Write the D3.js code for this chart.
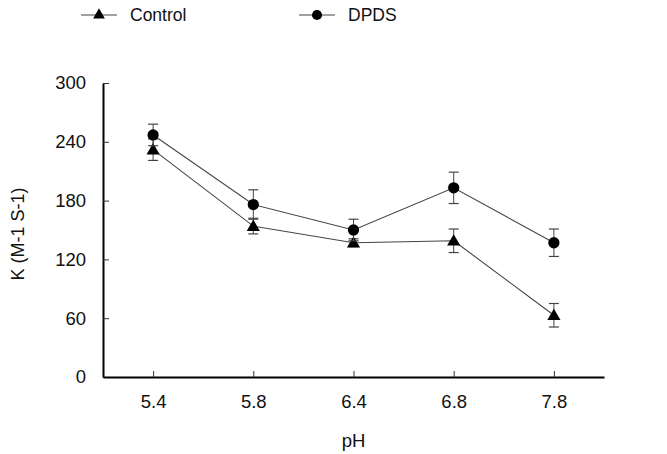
<!DOCTYPE html>
<html>
<head>
<meta charset="utf-8">
<script src="https://cdn.jsdelivr.net/npm/d3@7"></script>
<style>
  body { margin: 0; background: #fff; }
  svg { display: block; font-family: "Liberation Sans", Arial, sans-serif; }
</style>
</head>
<body>
<svg id="chart" width="667" height="454"></svg>
<script>
const categories = ["5.4", "5.8", "6.4", "6.8", "7.8"];
const controlValues = [232, 154, 137, 139, 63];
const controlErrors = [11, 8, 4, 12, 12];
const dpdsValues = [247, 176, 150, 193, 137];
const dpdsErrors = [11, 15, 11, 16, 14];
const yTicks = [0, 60, 120, 180, 240, 300];
const seriesNames = ["Control", "DPDS"];

(function () {
const svg = d3.select("#chart");
const mLeft = 103, mRight = 604, mTop = 83, mBottom = 377;

const x = d3.scalePoint().domain(categories).range([mLeft, mRight]).padding(0.5);
const y = d3.scaleLinear().domain([0, 300]).range([mBottom, mTop]);

const yAxis = svg.append("g").attr("transform", `translate(${mLeft},0)`)
  .call(d3.axisLeft(y).tickValues(yTicks).tickSizeInner(-6).tickSizeOuter(0).tickPadding(17));
const xAxis = svg.append("g").attr("transform", `translate(0,${mBottom})`)
  .call(d3.axisBottom(x).tickSizeInner(-6).tickSizeOuter(0).tickPadding(14));
[yAxis, xAxis].forEach(g => {
  g.select(".domain").attr("stroke", "#000").attr("stroke-width", 2);
  g.selectAll(".tick line").attr("stroke", "#333").attr("stroke-width", 1);
  g.selectAll(".tick text").attr("font-size", 18.5).attr("fill", "#111")
    .attr("font-family", "Liberation Sans, Arial, sans-serif");
});
xAxis.selectAll(".tick text").attr("dy", "0.9em");

svg.append("text").attr("x", (mLeft + mRight) / 2).attr("y", 447)
  .attr("text-anchor", "middle").attr("font-size", 18.5).attr("fill", "#111").text("pH");
svg.append("text").attr("transform", "translate(24,234) rotate(-90)")
  .attr("text-anchor", "middle").attr("font-size", 18).attr("fill", "#111").text("K (M-1 S-1)");

const series = [
  { name: seriesNames[0], values: controlValues, errors: controlErrors, symbol: d3.symbolTriangle },
  { name: seriesNames[1], values: dpdsValues, errors: dpdsErrors, symbol: d3.symbolCircle }
];

const line = d3.line().x(d => x(d.c)).y(d => y(d.v));

series.forEach(s => {
  const pts = categories.map((c, i) => ({ c, v: s.values[i], e: s.errors[i] }));
  const g = svg.append("g");
  pts.forEach(p => {
    const cx = x(p.c);
    g.append("line").attr("x1", cx).attr("x2", cx).attr("y1", y(p.v + p.e)).attr("y2", y(p.v - p.e))
      .attr("stroke", "#444").attr("stroke-width", 1);
    [p.v + p.e, p.v - p.e].forEach(v => {
      g.append("line").attr("x1", cx - 5).attr("x2", cx + 5).attr("y1", y(v)).attr("y2", y(v))
        .attr("stroke", "#444").attr("stroke-width", 1.2);
    });
  });
  g.append("path").datum(pts).attr("d", line).attr("fill", "none")
    .attr("stroke", "#444").attr("stroke-width", 1.1);
  g.selectAll(".m").data(pts).enter().append("path")
    .attr("transform", d => `translate(${x(d.c)},${y(d.v) + (s.symbol === d3.symbolTriangle ? 1 : 0)})`)
    .attr("d", d3.symbol().type(s.symbol).size(s.symbol === d3.symbolTriangle ? 75 : 100))
    .attr("fill", "#000");
});

const legendItems = [
  { name: seriesNames[0], symbol: d3.symbolTriangle, x1: 81, tx: 130 },
  { name: seriesNames[1], symbol: d3.symbolCircle, x1: 299, tx: 348 }
];
legendItems.forEach(l => {
  const ly = 15;
  svg.append("line").attr("x1", l.x1).attr("x2", l.x1 + 36).attr("y1", ly).attr("y2", ly)
    .attr("stroke", "#444").attr("stroke-width", 1.1);
  svg.append("path").attr("transform", `translate(${l.x1 + 18},${ly})`)
    .attr("d", d3.symbol().type(l.symbol).size(l.symbol === d3.symbolTriangle ? 60 : 80)).attr("fill", "#000");
  svg.append("text").attr("x", l.tx).attr("y", ly + 6).attr("font-size", 17.5).attr("fill", "#111").text(l.name);
});
})();
</script>
</body>
</html>
